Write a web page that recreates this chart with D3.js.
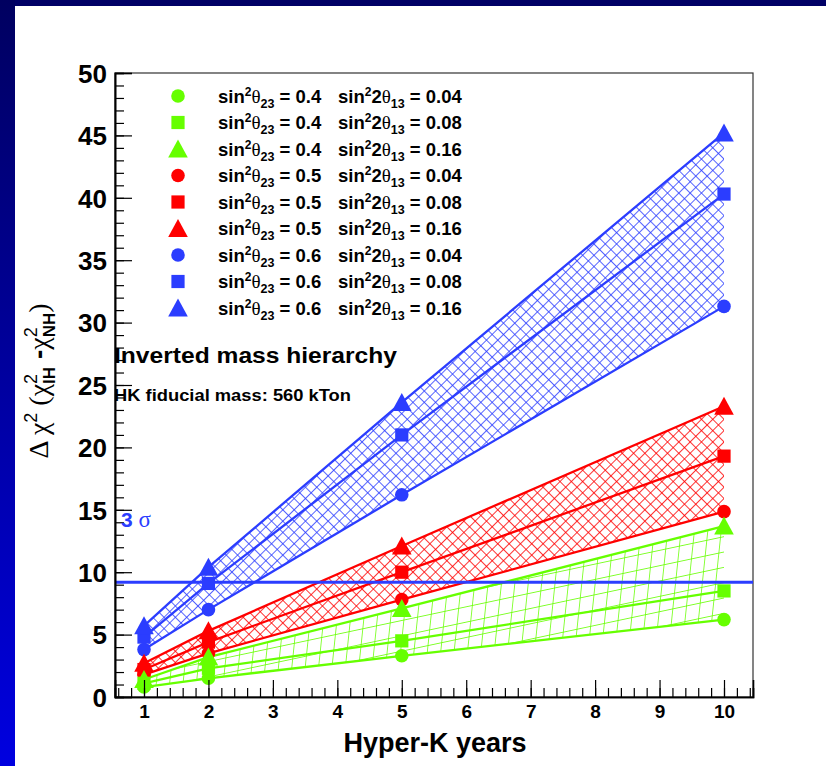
<!DOCTYPE html>
<html><head><meta charset="utf-8">
<script src="https://cdn.jsdelivr.net/npm/d3@7"></script>
<style>
html,body{margin:0;padding:0;background:#fff;}
svg{display:block;}
</style></head>
<body>
<script>
// ---------- DATA ----------
const years = [1, 2, 5, 10];
const green_s04_t004 = [0.8, 1.5, 3.3, 6.2];
const green_s04_t008 = [1.1, 2.3, 4.5, 8.5];
const green_s04_t016 = [1.4, 3.2, 7.1, 13.7];
const red_s05_t004   = [1.8, 3.5, 7.8, 14.85];
const red_s05_t008   = [2.2, 4.4, 10.0, 19.3];
const red_s05_t016   = [2.7, 5.3, 12.1, 23.3];
const blue_s06_t004  = [3.8, 7.0, 16.2, 31.3];
const blue_s06_t008  = [4.8, 9.1, 21.0, 40.3];
const blue_s06_t016  = [5.7, 10.4, 23.6, 45.2];
const sin2theta23 = ["0.4", "0.5", "0.6"];
const sin22theta13 = ["0.04", "0.08", "0.16"];
const yTicks = [0, 5, 10, 15, 20, 25, 30, 35, 40, 45, 50];
const xTicks = [1, 2, 3, 4, 5, 6, 7, 8, 9, 10];
const threeSigma = 9.2;

const colors = {green: "#66ff00", red: "#ff0000", blue: "#2b3dff"};
const groups = [
  {name: "blue",  color: colors.blue,  s23: sin2theta23[2], vals: [blue_s06_t004, blue_s06_t008, blue_s06_t016]},
  {name: "red",   color: colors.red,   s23: sin2theta23[1], vals: [red_s05_t004, red_s05_t008, red_s05_t016]},
  {name: "green", color: colors.green, s23: sin2theta23[0], vals: [green_s04_t004, green_s04_t008, green_s04_t016]}
];
const shapes = ["circle", "square", "triangle"];

// ---------- SVG ----------
const W = 826, H = 766;
const svg = d3.select("body").append("svg").attr("width", W).attr("height", H)
  .style("font-family", "'Liberation Sans', Arial, Helvetica, sans-serif");
const defs = svg.append("defs");

// background frame decorations
const lg = defs.append("linearGradient").attr("id", "lbar").attr("x1", 0).attr("y1", 0).attr("x2", 0).attr("y2", 1);
lg.append("stop").attr("offset", "0%").attr("stop-color", "#000060");
lg.append("stop").attr("offset", "100%").attr("stop-color", "#0000e0");
svg.append("rect").attr("x", 0).attr("y", 0).attr("width", W).attr("height", 6).attr("fill", "#000066");
svg.append("rect").attr("x", 0).attr("y", 0).attr("width", 15).attr("height", H).attr("fill", "url(#lbar)");

// hatch patterns
function makeX(id, color) {
  const s = 8;
  const p = defs.append("pattern").attr("id", id).attr("patternUnits", "userSpaceOnUse")
    .attr("width", s).attr("height", s).attr("patternTransform", "rotate(45)");
  p.append("line").attr("x1", 0).attr("y1", 0).attr("x2", 0).attr("y2", s).attr("stroke", color).attr("stroke-width", 1.6);
  p.append("line").attr("x1", 0).attr("y1", 0).attr("x2", s).attr("y2", 0).attr("stroke", color).attr("stroke-width", 1.6);
}
function makeG(id, color) {
  const p = defs.append("pattern").attr("id", id).attr("patternUnits", "userSpaceOnUse")
    .attr("width", 14).attr("height", 15).attr("patternTransform", "rotate(-12) skewX(-18)");
  p.append("line").attr("x1", 0).attr("y1", 0).attr("x2", 0).attr("y2", 15).attr("stroke", color).attr("stroke-width", 1.6);
  p.append("line").attr("x1", 0).attr("y1", 0).attr("x2", 14).attr("y2", 0).attr("stroke", color).attr("stroke-width", 1.6);
}
makeX("hatch_blue", colors.blue);
makeX("hatch_red", colors.red);
makeG("hatch_green", colors.green);

// scales
const x = d3.scaleLinear().domain([0.55, 10.45]).range([115, 753]);
const y = d3.scaleLinear().domain([0, 50]).range([697, 73]);

// frame
svg.append("rect").attr("x", x(0.55)).attr("y", y(50)).attr("width", x(10.45) - x(0.55)).attr("height", y(0) - y(50))
  .attr("fill", "none").attr("stroke", "#333").attr("stroke-width", 1.2);

// bands
const plot = svg.append("g");
groups.forEach(g => {
  const pts = years.map((yr, i) => ({x: yr, lo: g.vals[0][i], hi: g.vals[2][i]}));
  const area = d3.area().x(d => x(d.x)).y0(d => y(d.lo)).y1(d => y(d.hi));
  plot.append("path").attr("d", area(pts)).attr("fill", "url(#hatch_" + g.name + ")").attr("stroke", "none");
  g.vals.forEach(v => {
    const line = d3.line().x((d, i) => x(years[i])).y(d => y(d));
    plot.append("path").attr("d", line(v)).attr("fill", "none").attr("stroke", g.color).attr("stroke-width", 2.3);
  });
});

// 3 sigma line
svg.append("line").attr("x1", x(0.55)).attr("x2", x(10.45)).attr("y1", y(threeSigma)).attr("y2", y(threeSigma))
  .attr("stroke", colors.blue).attr("stroke-width", 3);

// markers
function drawMarker(sel, shape, cx, cy, color) {
  if (shape === "circle") {
    sel.append("circle").attr("cx", cx).attr("cy", cy).attr("r", 6.8).attr("fill", color);
  } else if (shape === "square") {
    sel.append("rect").attr("x", cx - 6.6).attr("y", cy - 6.6).attr("width", 13.2).attr("height", 13.2).attr("fill", color);
  } else {
    sel.append("path").attr("d", `M${cx},${cy - 9.5} L${cx + 9.8},${cy + 8.5} L${cx - 9.8},${cy + 8.5} Z`).attr("fill", color);
  }
}
groups.forEach(g => {
  g.vals.forEach((v, si) => {
    v.forEach((val, i) => drawMarker(svg, shapes[si], x(years[i]), y(val), g.color));
  });
});

// axes
const yAxis = d3.axisLeft(y).tickValues(yTicks).tickSize(-17).tickPadding(8).tickFormat(d3.format("d"));
const yMinor = d3.axisLeft(y).tickValues(d3.range(0, 51, 1)).tickSize(-9).tickFormat("");
const xAxis = d3.axisBottom(x).tickValues(xTicks).tickSize(-17).tickPadding(8).tickFormat(d3.format("d"));
const xMinor = d3.axisBottom(x).tickValues(d3.range(0.6, 10.41, 0.2)).tickSize(-9).tickFormat("");

function styleAxis(g) {
  g.selectAll("path.domain").attr("stroke", "#000").attr("stroke-width", 1.6);
  g.selectAll(".tick line").attr("stroke", "#000").attr("stroke-width", 1.2);
}
const gym = svg.append("g").attr("transform", `translate(${x(0.55)},0)`).call(yMinor); styleAxis(gym);
const gy = svg.append("g").attr("transform", `translate(${x(0.55)},0)`).call(yAxis); styleAxis(gy);
gy.selectAll("text").attr("font-size", 26).attr("font-weight", "bold").attr("fill", "#000")
  .attr("font-family", "'Liberation Sans', Arial, sans-serif").attr("dy", "0.36em");
const gxm = svg.append("g").attr("transform", `translate(0,${y(0)})`).call(xMinor); styleAxis(gxm);
const gx = svg.append("g").attr("transform", `translate(0,${y(0)})`).call(xAxis); styleAxis(gx);
gx.selectAll("text").attr("font-size", 19).attr("font-weight", "bold").attr("fill", "#000")
  .attr("font-family", "'Liberation Sans', Arial, sans-serif");

// axis titles
svg.append("text").attr("x", 435).attr("y", 752).attr("text-anchor", "middle")
  .attr("font-size", 27).attr("font-weight", "bold").text("Hyper-K years");

const yt = svg.append("text").attr("transform", "translate(48,381) rotate(-90)").attr("text-anchor", "middle")
  .attr("font-size", 28).attr("font-family", "'Liberation Serif', 'DejaVu Serif', serif");
yt.append("tspan").text("Δ ");
yt.append("tspan").text("χ");
yt.append("tspan").attr("font-size", 18).attr("dy", -11).attr("font-family", "'Liberation Sans', sans-serif").text("2");
yt.append("tspan").attr("dy", 11).text(" (χ");
yt.append("tspan").attr("font-size", 18).attr("dy", -11).attr("font-family", "'Liberation Sans', sans-serif").text("2");
yt.append("tspan").attr("font-size", 17).attr("dx", -10).attr("dy", 18).attr("font-weight", "bold").attr("font-family", "'Liberation Sans', sans-serif").text("IH");
yt.append("tspan").attr("dy", -7).attr("font-family", "'Liberation Sans', sans-serif").attr("font-weight", "bold").text(" -");
yt.append("tspan").text("χ");
yt.append("tspan").attr("font-size", 18).attr("dy", -11).attr("font-family", "'Liberation Sans', sans-serif").text("2");
yt.append("tspan").attr("font-size", 17).attr("dx", -10).attr("dy", 18).attr("font-weight", "bold").attr("font-family", "'Liberation Sans', sans-serif").text("NH");
yt.append("tspan").attr("dy", -7).text(")");

// annotations
svg.append("text").attr("x", 114).attr("y", 363).attr("font-size", 22.5).attr("font-weight", "bold")
  .attr("textLength", 283).attr("lengthAdjust", "spacingAndGlyphs").text("Inverted mass hierarchy");
svg.append("text").attr("x", 114).attr("y", 401).attr("font-size", 17).attr("font-weight", "bold")
  .attr("textLength", 237).attr("lengthAdjust", "spacingAndGlyphs").text("HK fiducial mass: 560 kTon");
const sig = svg.append("text").attr("x", 121).attr("y", 527).attr("fill", colors.blue).attr("font-size", 21);
sig.append("tspan").attr("font-weight", "bold").text("3 ");
sig.append("tspan").attr("font-family", "'Liberation Serif', serif").attr("font-size", 23).text("σ");

// legend
const legOrder = [];
[2, 1, 0].forEach(gi => { [0, 1, 2].forEach(si => legOrder.push({g: groups[gi], si})); });
legOrder.forEach((it, k) => {
  const cy = 96 + k * 26.5;
  drawMarker(svg, shapes[it.si], 178, cy, it.g.color);
  const base = cy + 6.5;
  const t1 = svg.append("text").attr("x", 218).attr("y", base).attr("font-size", 18.5).attr("font-weight", "bold");
  t1.append("tspan").text("sin");
  t1.append("tspan").attr("font-size", 12).attr("dy", -7).text("2");
  t1.append("tspan").attr("dy", 7).attr("font-weight", "normal").attr("font-family", "'Liberation Serif', serif").attr("font-size", 19).text("θ");
  t1.append("tspan").attr("font-size", 12.5).attr("dy", 5).text("23");
  t1.append("tspan").attr("dy", -5).text(" = " + it.g.s23);
  const t2 = svg.append("text").attr("x", 338).attr("y", base).attr("font-size", 18.5).attr("font-weight", "bold");
  t2.append("tspan").text("sin");
  t2.append("tspan").attr("font-size", 12).attr("dy", -7).text("2");
  t2.append("tspan").attr("dy", 7).text("2");
  t2.append("tspan").attr("font-weight", "normal").attr("font-family", "'Liberation Serif', serif").attr("font-size", 19).text("θ");
  t2.append("tspan").attr("font-size", 12.5).attr("dy", 5).text("13");
  t2.append("tspan").attr("dy", -5).text(" = " + sin22theta13[it.si]);
});
</script>
</body></html>
